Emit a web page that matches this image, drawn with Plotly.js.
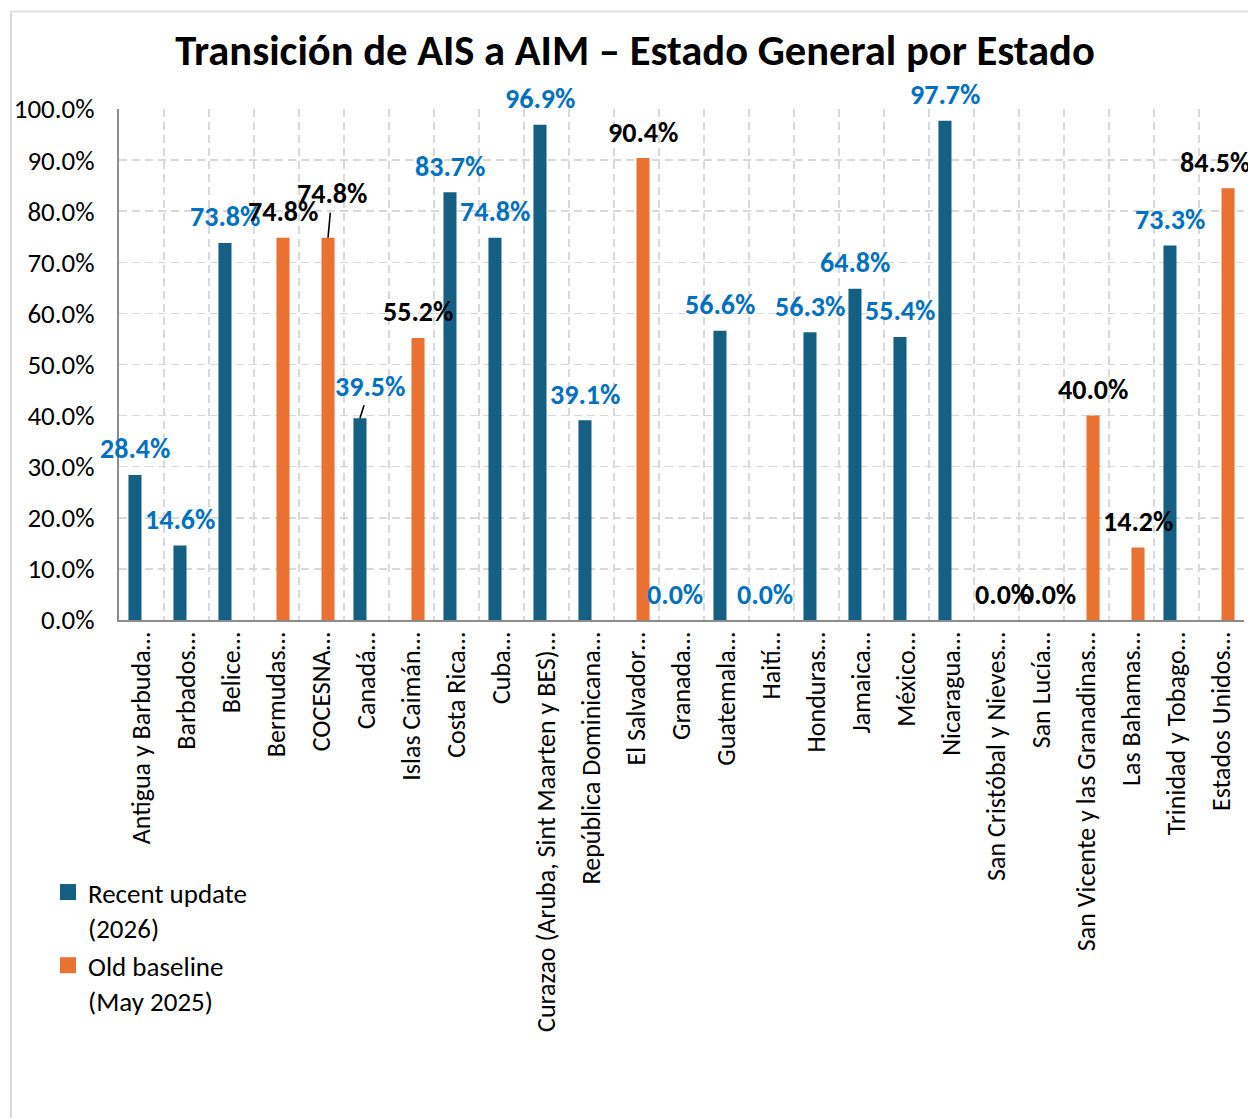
<!DOCTYPE html>
<html>
<head>
<meta charset="utf-8">
<script src="https://cdn.plot.ly/plotly-3.0.1.min.js"></script>
<style>
  html, body { margin: 0; padding: 0; background: #ffffff; }
  #chart { width: 1248px; height: 1118px; }
</style>
</head>
<body>
<div id="chart"></div>
<script>
// ---- Data ----
const categories = [
  "Antigua y Barbuda…", "Barbados…", "Belice…", "Bermudas…", "COCESNA…",
  "Canadá…", "Islas Caimán…", "Costa Rica…", "Cuba…",
  "Curazao (Aruba, Sint Maarten y BES)…", "República Dominicana…",
  "El Salvador…", "Granada…", "Guatemala…", "Haití…", "Honduras…",
  "Jamaica…", "México…", "Nicaragua…", "San Cristóbal y Nieves…",
  "San Lucía…", "San Vicente y las Granadinas…", "Las Bahamas…",
  "Trinidad y Tobago…", "Estados Unidos…"
];
const recentUpdate = [
  0.284, 0.146, 0.738, null, null,
  0.395, null, 0.837, 0.748,
  0.969, 0.391,
  null, 0.0, 0.566, 0.0, 0.563,
  0.648, 0.554, 0.977, null,
  null, null, null,
  0.733, null
];
const oldBaseline = [
  null, null, null, 0.748, 0.748,
  null, 0.552, null, null,
  null, null,
  0.904, null, null, null, null,
  null, null, null, 0.0,
  0.0, 0.400, 0.142,
  null, 0.845
];
const seriesNames = ["Recent update<br>(2026)", "Old baseline<br>(May 2025)"];

// ---- Styles ----
const FONT = "Carlito, Lato, 'Open Sans', sans-serif";
const BLUE = "#156082";
const ORANGE = "#E97132";
const LABEL_BLUE = "#0070C0";
const W = 1248, H = 1118;
const M = { l: 119, r: 4, t: 109, b: 498, autoexpand: false };
const BARGAP = 0.42;
const PW = W - M.l - M.r, PH = H - M.t - M.b;
const catW = PW / categories.length;
const barW = catW * (1 - BARGAP) / 2;
const LIFT = 26;
// manual label placements (pixel offsets), like in the original
const labelTweaks = {
  "COCESNA…": { dx: 4, dy: 44, leader: true },
  "Canadá…": { dx: 10, dy: 32, leader: true },
  "Estados Unidos…": { dx: -13, dy: LIFT, leader: false }
};

const traces = [
  { type: "bar", x: categories, y: recentUpdate, name: seriesNames[0],
    marker: { color: BLUE }, showlegend: false },
  { type: "bar", x: categories, y: oldBaseline, name: seriesNames[1],
    marker: { color: ORANGE }, showlegend: false },
  { type: "scatter", mode: "markers", x: [null], y: [null], name: seriesNames[0],
    marker: { color: BLUE, symbol: "square", size: 16 } },
  { type: "scatter", mode: "markers", x: [null], y: [null], name: seriesNames[1],
    marker: { color: ORANGE, symbol: "square", size: 16 } }
];

const annotations = [];
categories.forEach((c, i) => {
  const isRecent = recentUpdate[i] !== null;
  const v = isRecent ? recentUpdate[i] : oldBaseline[i];
  if (v === null) return;
  const text = (v * 100).toFixed(1) + "%";
  const color = isRecent ? LABEL_BLUE : "#000000";
  const xs = isRecent ? -barW / 2 : barW / 2;
  const tw = labelTweaks[c];
  const base = {
    x: c, y: v, xref: "x", yref: "y", text: text,
    font: { family: FONT, size: 28, color: color, weight: "bold" },
    xshift: xs
  };
  if (tw && tw.leader) {
    Object.assign(base, { showarrow: true, arrowhead: 0, arrowwidth: 1.6,
      arrowcolor: "#000000", ax: tw.dx, ay: -tw.dy, standoff: 0 });
  } else {
    Object.assign(base, { showarrow: false, yanchor: "middle",
      xshift: xs + (tw ? tw.dx : 0), yshift: tw ? tw.dy : LIFT });
  }
  annotations.push(base);
});

const toPX = px => (px - M.l) / PW;
const toPY = py => (H - M.b - py) / PH;

const layout = {
  width: W, height: H,
  margin: M,
  paper_bgcolor: "#ffffff", plot_bgcolor: "#ffffff",
  font: { family: FONT, size: 26, color: "#000000" },
  title: {
    text: "<b>Transición de AIS a AIM – Estado General por Estado</b>",
    font: { family: FONT, size: 42.6, color: "#000000" },
    x: 635 / W, xref: "container", xanchor: "center",
    y: 1 - 50 / H, yref: "container", yanchor: "middle"
  },
  barmode: "group", bargap: BARGAP, bargroupgap: 0,
  xaxis: {
    type: "category", range: [-0.5, categories.length - 0.5], autorange: false,
    tickson: "boundaries", tickangle: -90,
    showgrid: true, gridcolor: "#D9D9D9", gridwidth: 1.5, griddash: "8px,5px",
    showline: true, linecolor: "#8C8C8C", linewidth: 2,
    ticks: "", automargin: false,
    tickfont: { family: FONT, size: 26, color: "#000000" }
  },
  yaxis: {
    range: [0, 1], autorange: false, dtick: 0.1, tickformat: ".1%",
    showgrid: true, gridcolor: "#D9D9D9", gridwidth: 1.5, griddash: "8px,5px",
    zeroline: false,
    showline: true, linecolor: "#8C8C8C", linewidth: 2,
    ticks: "", ticklabelstandoff: 17, automargin: false,
    tickfont: { family: FONT, size: 27, color: "#000000" }
  },
  legend: {
    x: 48 / W, xref: "container", xanchor: "left",
    y: 1 - 868 / H, yref: "container", yanchor: "top",
    font: { family: FONT, size: 27, color: "#000000" },
    valign: "top", tracegroupgap: 0, bgcolor: "rgba(0,0,0,0)"
  },
  annotations: annotations,
  shapes: [
    { type: "line", xref: "paper", yref: "paper",
      x0: toPX(11), x1: toPX(11), y0: toPY(11.5), y1: toPY(H + 5),
      line: { color: "#D9D9D9", width: 2 } },
    { type: "line", xref: "paper", yref: "paper",
      x0: toPX(11), x1: toPX(W + 5), y0: toPY(11.5), y1: toPY(11.5),
      line: { color: "#D9D9D9", width: 1.5 } }
  ],
  hovermode: false
};

Plotly.newPlot("chart", traces, layout, { displayModeBar: false, staticPlot: true });
</script>
</body>
</html>
